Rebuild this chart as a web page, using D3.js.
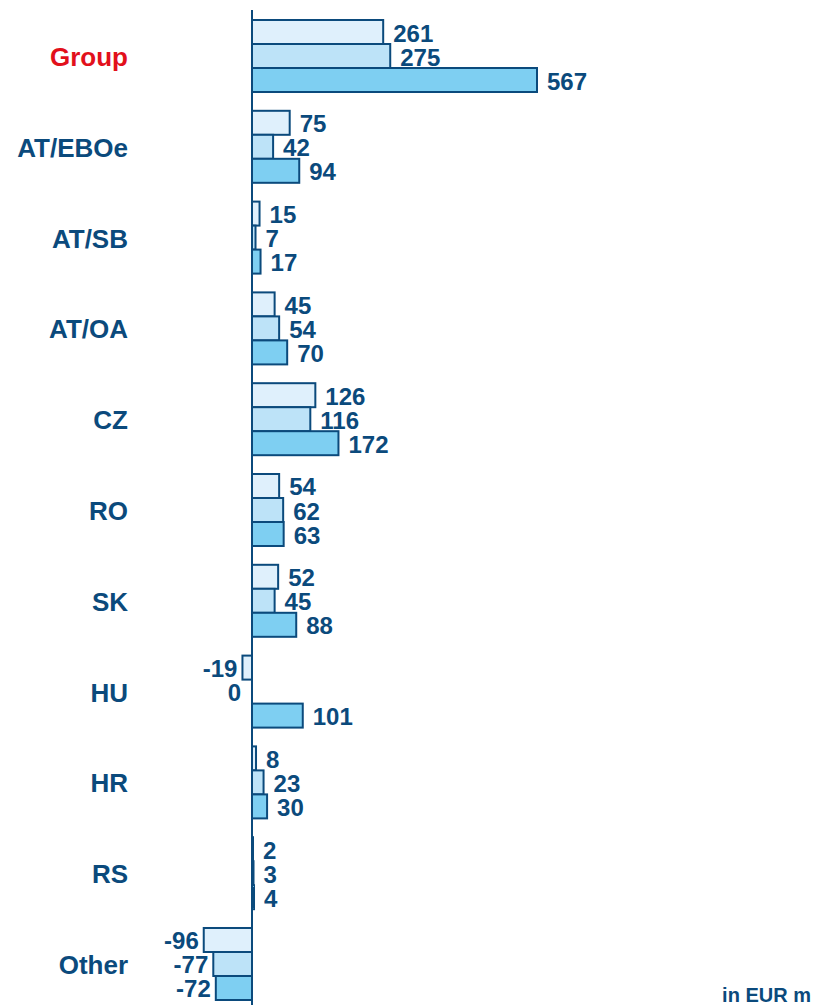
<!DOCTYPE html>
<html>
<head>
  <title>Bars by segment</title>
  <script src="https://d3js.org/d3.v7.min.js"></script>
  <style type="text/css">
    body { margin: 0; background: #fff; }
    svg { font-family: "Liberation Sans", Arial, sans-serif; font-weight: bold; }
  </style>
</head>
<body>
<div id="chart"></div>
<script type="text/javascript">
  // values, in EUR m
  var categories = ["Group", "AT/EBOe", "AT/SB", "AT/OA", "CZ", "RO", "SK", "HU", "HR", "RS", "Other"];
  var series1 = [261, 75, 15, 45, 126, 54, 52, -19, 8, 2, -96];
  var series2 = [275, 42, 7, 54, 116, 62, 45, 0, 23, 3, -77];
  var series3 = [567, 94, 17, 70, 172, 63, 88, 101, 30, 4, -72];
  var seriesNames = ["s1", "s2", "s3"];
  var fills = ["#dff0fc", "#bde3f8", "#7ecff2"];

  var width = 814, height = 1005;
  var dark = "#0b4a7c";

  var svg = d3.select("#chart").append("svg")
    .attr("width", width)
    .attr("height", height);

  var x = d3.scaleLinear().domain([0, 567]).range([252, 537]);
  var y = d3.scaleBand().domain(categories).range([20, 1000])
    .paddingInner(0.207).paddingOuter(0);
  var ySub = d3.scaleBand().domain(seriesNames).range([0, y.bandwidth()]);

  var rows = [];
  categories.forEach(function (c, i) {
    [series1, series2, series3].forEach(function (s, j) {
      rows.push({ cat: c, key: seriesNames[j], idx: j, v: s[i] });
    });
  });

  var bars = svg.append("g");
  bars.selectAll("rect")
    .data(rows.filter(function (d) { return d.v !== 0; }))
    .enter()
    .append("rect")
    .attr("x", function (d) { return Math.min(x(0), x(d.v)); })
    .attr("y", function (d) { return y(d.cat) + ySub(d.key); })
    .attr("width", function (d) { return Math.abs(x(d.v) - x(0)); })
    .attr("height", ySub.bandwidth())
    .attr("fill", function (d) { return fills[d.idx]; })
    .attr("stroke", dark)
    .attr("stroke-width", 2);

  // zero line
  svg.append("line")
    .attr("x1", x(0)).attr("x2", x(0))
    .attr("y1", 10).attr("y2", height)
    .attr("stroke", dark)
    .attr("stroke-width", 2);

  // value labels
  svg.append("g").selectAll("text")
    .data(rows)
    .enter()
    .append("text")
    .attr("x", function (d) {
      if (d.v > 0) return x(d.v) + 10;
      if (d.v === 0) return x(0) - 11;
      return x(d.v) - 5;
    })
    .attr("y", function (d) { return y(d.cat) + ySub(d.key) + ySub.bandwidth() / 2 + 1; })
    .attr("dominant-baseline", "central")
    .attr("text-anchor", function (d) { return d.v > 0 ? "start" : "end"; })
    .attr("font-size", 24)
    .attr("fill", dark)
    .text(function (d) { return d.v; });

  // category labels
  svg.append("g").selectAll("text")
    .data(categories)
    .enter()
    .append("text")
    .attr("x", 128)
    .attr("y", function (d) { return y(d) + y.bandwidth() / 2 + 1; })
    .attr("dominant-baseline", "central")
    .attr("text-anchor", "end")
    .attr("font-size", 26)
    .attr("fill", function (d) { return d === "Group" ? "#e2101b" : dark; })
    .text(function (d) { return d; });

  svg.append("text")
    .attr("x", 811)
    .attr("y", 1002)
    .attr("text-anchor", "end")
    .attr("font-size", 20)
    .attr("fill", dark)
    .text("in EUR m");
</script>
</body>
</html>
